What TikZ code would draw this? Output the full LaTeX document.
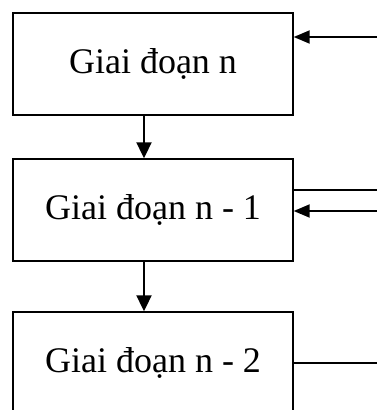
\documentclass[tikz,border=0pt]{standalone}
\usepackage{fontspec}
\setmainfont{Liberation Serif}
\usetikzlibrary{arrows.meta,calc}
\begin{document}
\begin{tikzpicture}[x=1pt,y=-1pt,
  stagebox/.style={draw,line width=1.4pt,minimum width=280pt,minimum height=102pt,inner sep=0pt,font=\fontsize{36}{40}\selectfont},
  conn/.style={line width=2pt},
  harr/.style={conn,-{Triangle[length=16pt,width=13pt]}},
  varr/.style={conn,-{Triangle[length=16pt,width=15pt]}}]
\useasboundingbox (0,0) rectangle (377,410);
\clip (0,0) rectangle (377,410);
\node[stagebox] (b1) at (153,64) {Giai đoạn n};
\node[stagebox] (b2) at (153,210) {Giai đoạn n - 1};
\node[stagebox] (b3) at (153,363) {Giai đoạn n - 2};
\coordinate (in1) at (377,37);
\coordinate (out2) at (377,190);
\coordinate (in2) at (377,211);
\coordinate (out3) at (377,363);
\coordinate (v) at (144,0);
\draw[harr] (in1) -- (in1 -| b1.east);
\draw[varr] (v |- b1.south) -- (v |- b2.north);
\draw[varr] (v |- b2.south) -- (v |- b3.north);
\draw[conn] (out2 -| b2.east) -- (out2);
\draw[harr] (in2) -- (in2 -| b2.east);
\draw[conn] (out3 -| b3.east) -- (out3);
\end{tikzpicture}
\end{document}
